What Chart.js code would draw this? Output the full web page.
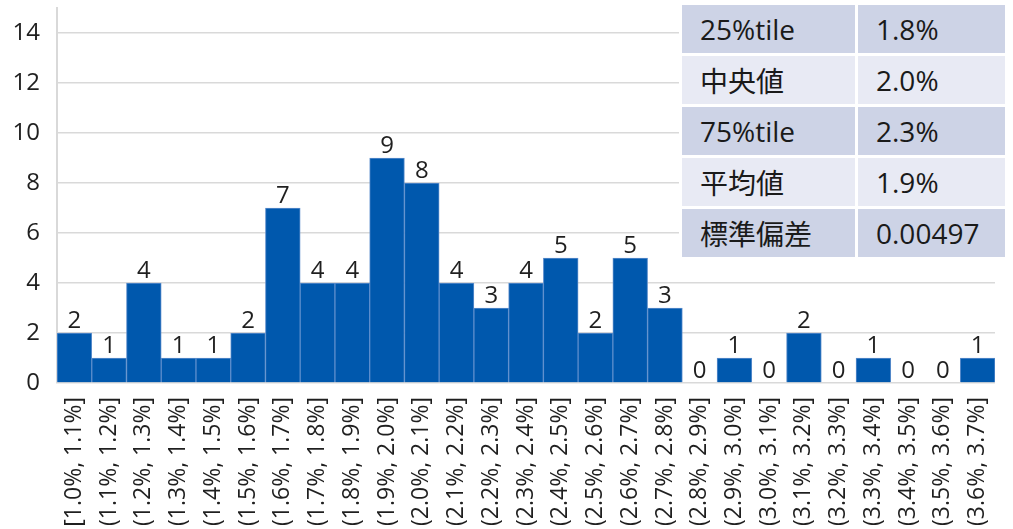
<!DOCTYPE html>
<html>
<head>
<meta charset="utf-8">
<script src="https://cdn.jsdelivr.net/npm/chart.js@4/dist/chart.umd.min.js"></script>
<style>
  html, body { margin: 0; padding: 0; background: #fff; }
  #wrap { position: relative; width: 1013px; height: 529px; overflow: hidden; }
  #stats {
    position: absolute; left: 679px; top: 2px;
    border-collapse: separate; border-spacing: 3px;
    background: #fff;
    font-family: "Open Sans", "Noto Sans CJK JP", sans-serif;
    font-size: 28px; color: #1a1a1a;
  }
  #stats td { height: 48px; padding: 0 0 0 18px; box-sizing: border-box; vertical-align: middle; white-space: nowrap; }
  #stats td.k { width: 173px; }
  #stats td.v { width: 147px; }
  #stats tr.dark td { background: #cdd3e6; }
  #stats tr.light td { background: #e8eaf4; }
</style>
</head>
<body>
<div id="wrap">
  <canvas id="c" width="1013" height="529"></canvas>
  <table id="stats"></table>
</div>
<script>
// Histogram bins (rate intervals) and the count of items in each
const bins = [
  '[1.0%, 1.1%]', '(1.1%, 1.2%]', '(1.2%, 1.3%]', '(1.3%, 1.4%]', '(1.4%, 1.5%]',
  '(1.5%, 1.6%]', '(1.6%, 1.7%]', '(1.7%, 1.8%]', '(1.8%, 1.9%]', '(1.9%, 2.0%]',
  '(2.0%, 2.1%]', '(2.1%, 2.2%]', '(2.2%, 2.3%]', '(2.3%, 2.4%]', '(2.4%, 2.5%]',
  '(2.5%, 2.6%]', '(2.6%, 2.7%]', '(2.7%, 2.8%]', '(2.8%, 2.9%]', '(2.9%, 3.0%]',
  '(3.0%, 3.1%]', '(3.1%, 3.2%]', '(3.2%, 3.3%]', '(3.3%, 3.4%]', '(3.4%, 3.5%]',
  '(3.5%, 3.6%]', '(3.6%, 3.7%]'
];
const counts = [2, 1, 4, 1, 1, 2, 7, 4, 4, 9, 8, 4, 3, 4, 5, 2, 5, 3, 0, 1, 0, 2, 0, 1, 0, 0, 1];

// Summary statistics shown in the table
const statNames = ['25%tile', '中央値', '75%tile', '平均値', '標準偏差'];
const statValues = ['1.8%', '2.0%', '2.3%', '1.9%', '0.00497'];

// Y axis range and tick values
const yMax = 15;
const yTicks = [0, 2, 4, 6, 8, 10, 12, 14];

const table = document.getElementById('stats');
statNames.forEach((name, i) => {
  const tr = document.createElement('tr');
  tr.className = i % 2 === 0 ? 'dark' : 'light';
  const a = document.createElement('td'); a.className = 'k'; a.textContent = name;
  const b = document.createElement('td'); b.className = 'v'; b.textContent = statValues[i];
  tr.appendChild(a); tr.appendChild(b);
  table.appendChild(tr);
});

const FONT = '"Open Sans", "Noto Sans", sans-serif';
const TEXT = '#1f1f1f';

// Count printed above each bar
const valueLabels = {
  id: 'valueLabels',
  afterDatasetsDraw(chart) {
    const ctx = chart.ctx;
    const meta = chart.getDatasetMeta(0);
    ctx.save();
    ctx.font = '24px ' + FONT;
    ctx.fillStyle = TEXT;
    ctx.textAlign = 'center';
    ctx.textBaseline = 'bottom';
    meta.data.forEach((bar, i) => {
      ctx.fillText(String(counts[i]), bar.x, bar.y);
    });
    ctx.restore();
  }
};

new Chart(document.getElementById('c'), {
  type: 'bar',
  data: {
    labels: bins,
    datasets: [{
      data: counts,
      backgroundColor: '#0058ad',
      borderColor: '#5b8dcc',
      borderWidth: 1,
      barPercentage: 1,
      categoryPercentage: 1
    }]
  },
  options: {
    responsive: false,
    animation: false,
    layout: { padding: { left: 0, right: 18, top: 8, bottom: 0 } },
    plugins: { legend: { display: false }, tooltip: { enabled: false } },
    scales: {
      x: {
        grid: { display: false, drawTicks: false },
        border: { display: false },
        ticks: {
          autoSkip: false, minRotation: 90, maxRotation: 90, padding: 14,
          color: TEXT, font: { family: FONT, size: 23 }
        },
        afterFit(s) { s.height = 146; s.paddingLeft = 0; s.paddingRight = 0; }
      },
      y: {
        min: 0, max: yMax,
        afterBuildTicks(s) { s.ticks = yTicks.map(v => ({ value: v })); },
        grid: { color: '#d9d9d9', lineWidth: 1.5, drawTicks: false },
        border: { color: '#d9d9d9', width: 2 },
        ticks: { padding: 17, color: TEXT, font: { family: FONT, size: 24 } },
        afterFit(s) { s.width = 57; s.paddingTop = 0; s.paddingBottom = 0; }
      }
    }
  },
  plugins: [valueLabels]
});
</script>
</body>
</html>
